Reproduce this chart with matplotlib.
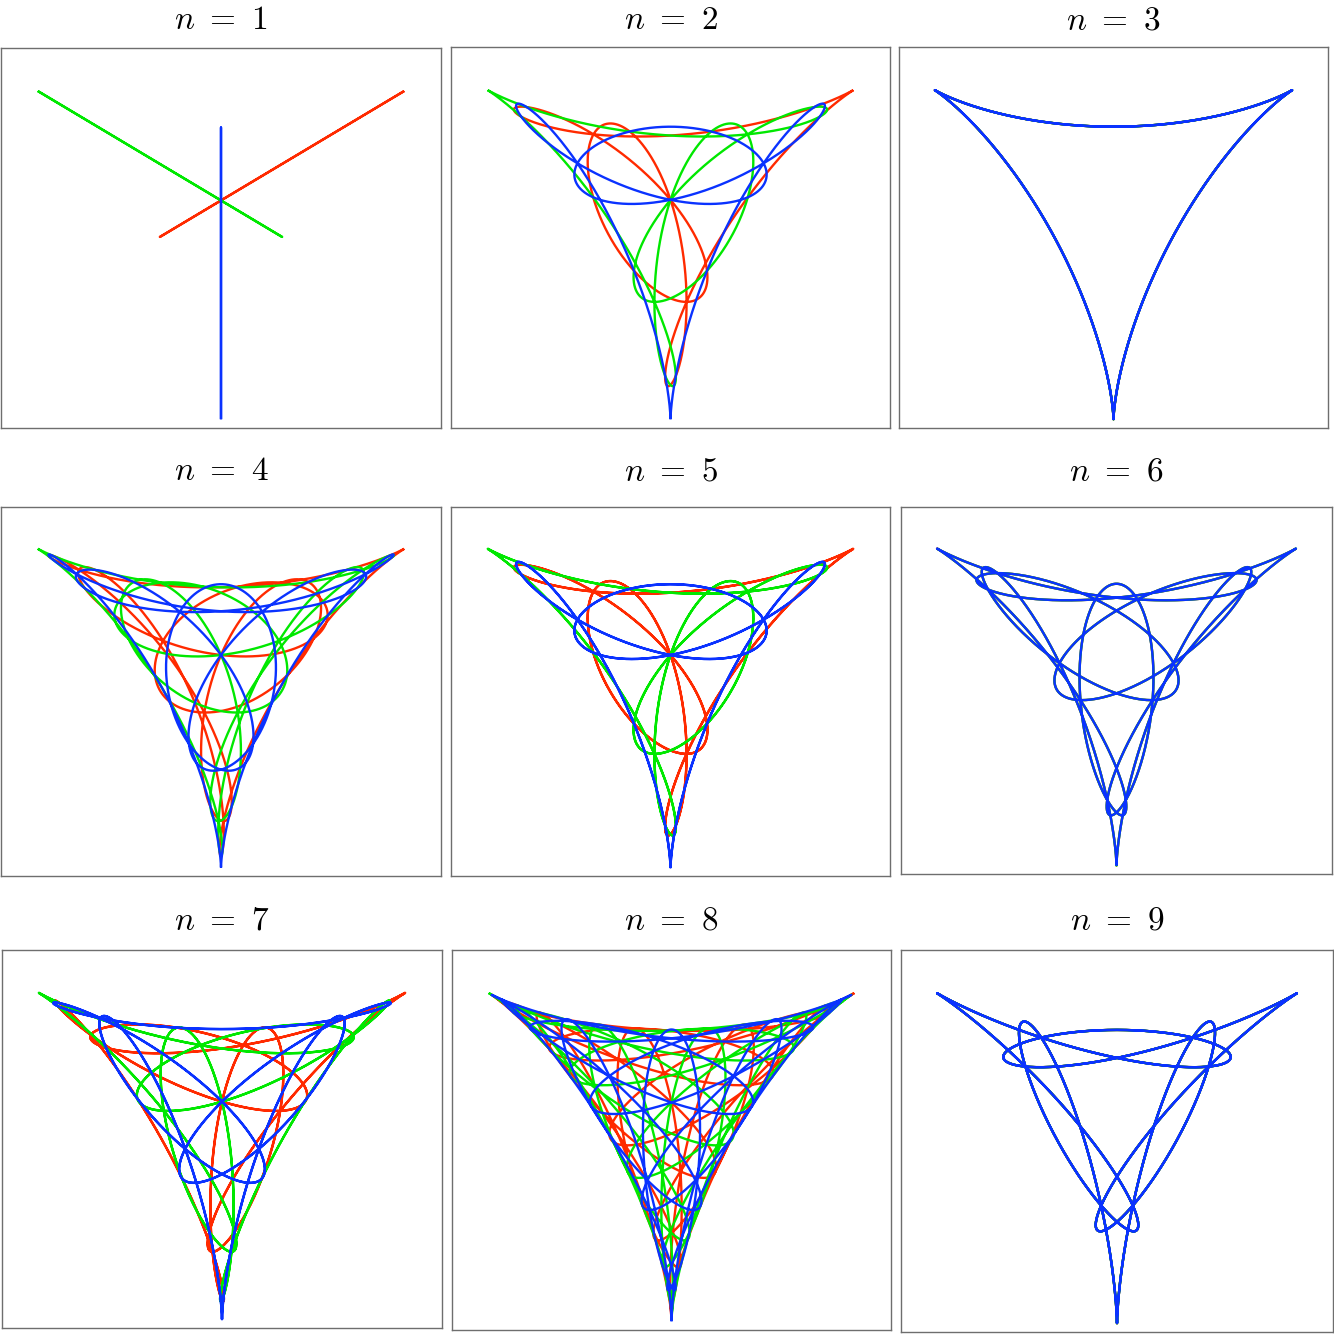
import numpy as np
import matplotlib
matplotlib.use("Agg")
import matplotlib.pyplot as plt

plt.rcParams['mathtext.fontset'] = 'cm'

# Panel labels and the integer frequencies of the three unit phasors
# z(t) = exp(i*a*t) + exp(i*b*t) + exp(i*c*t), with a + b + c = 0
n_labels = [1, 2, 3, 4, 5, 6, 7, 8, 9]
freq_a = [0, 1, 2, 3, 4, 5, 6, 7, 8]
freq_b = [2, 2, 2, 2, 2, 2, 2, 2, 2]
freq_c = [-2, -3, -4, -5, -6, -7, -8, -9, -10]

# colours: rotation of the curve by 0, 1, 2 cube roots of unity
series_colors = ['#ff2a00', '#00e800', '#0a32ff']
series_rot = [1, 2, 0]   # red = omega*z, green = omega^2*z, blue = z

# panel frames in pixels (x0, x1, y0, y1), top-left origin
frames = [
    (1, 441, 48, 428), (451, 890, 47, 428), (899, 1328, 47, 428),
    (1, 441, 507, 876), (451, 890, 507, 876), (901, 1332, 507, 874),
    (2, 442, 950, 1328), (452, 891, 950, 1330), (901, 1333, 950, 1332),
]
title_baseline = [29, 29, 29, 480, 480, 480, 929, 929, 929]

W = H = 1334
fig = plt.figure(figsize=(W / 100, H / 100), dpi=100)

t = np.linspace(0, 2 * np.pi, 6001)
omega = np.exp(2j * np.pi / 3)

for i, n in enumerate(n_labels):
    x0, x1, y0, y1 = frames[i]
    ax = fig.add_axes([x0 / W, 1 - y1 / H, (x1 - x0) / W, (y1 - y0) / H])
    z = (np.exp(1j * freq_a[i] * t) + np.exp(1j * freq_b[i] * t)
         + np.exp(1j * freq_c[i] * t))
    for col, k in zip(series_colors, series_rot):
        w = z * omega ** k
        ax.plot(w.imag, -w.real, color=col, lw=1.7, solid_capstyle='butt')
    ax.set_xlim(-3.12, 3.12)
    ax.set_ylim(-3.12, 2.09)
    ax.set_xticks([])
    ax.set_yticks([])
    for sp in ax.spines.values():
        sp.set_color('#6e6e6e')
        sp.set_linewidth(1.0)
    fig.text((x0 + x1) / 2 / W, 1 - title_baseline[i] / H, r'$n\ =\ %d$' % n,
             ha='center', va='baseline', fontsize=24)

fig.savefig('out.png', dpi=100, facecolor='white')
